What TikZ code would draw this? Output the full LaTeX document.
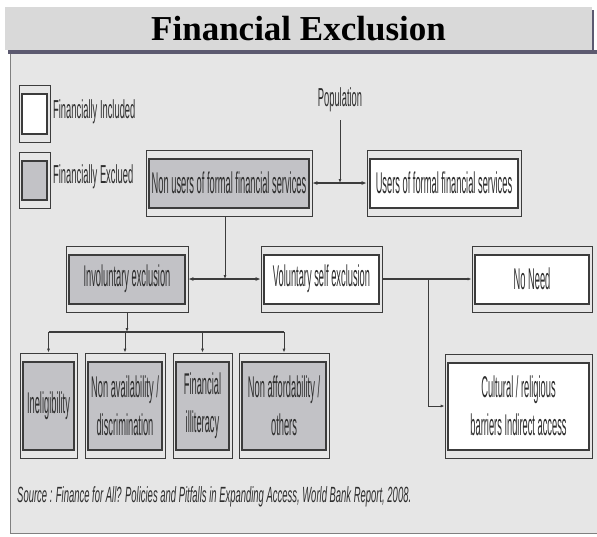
\documentclass[tikz,border=0pt]{standalone}
\usepackage{fontspec}
\setmainfont{Liberation Serif}
\newfontfamily\narrowfont{Liberation Sans}[FakeStretch=0.31]
\newfontfamily\legendfont{Liberation Sans}[FakeStretch=0.36]
\newfontfamily\sourcefont{Liberation Sans}[FakeStretch=0.43]
\usetikzlibrary{arrows.meta}
\definecolor{panelgray}{HTML}{E6E6E6}
\definecolor{titlegray}{HTML}{D9D9D9}
\definecolor{boxgray}{HTML}{C2C2C6}
\definecolor{linegray}{HTML}{3C3C3C}
\definecolor{shadowcol}{HTML}{5C5A70}
\definecolor{textgray}{HTML}{2E2E2E}
\tikzset{
	dblbox/.style={draw=linegray, line width=0.7pt, inner sep=0pt, align=center, text=textgray,
		font=\narrowfont\fontsize{30}{38}\selectfont,
		path picture={\draw[line width=1.2pt, draw=linegray, fill=#1]
			([shift={(3pt,8pt)}]path picture bounding box.south west) rectangle
			([shift={(-3pt,-9pt)}]path picture bounding box.north east);}},
	excl/.style={dblbox=boxgray},
	incl/.style={dblbox=white},
	lbl/.style={text=textgray, inner sep=0pt, font=\legendfont\fontsize{26}{30}\selectfont},
	link/.style={draw=linegray, line width=0.8pt, -{Latex[length=4pt,width=3pt]}},
	twoway/.style={draw=linegray, line width=1.6pt, {Latex[length=5pt,width=4pt]}-{Latex[length=5pt,width=4pt]}},
}
\begin{document}
\begin{tikzpicture}[x=1pt, y=-1pt]
	\useasboundingbox (0,0) rectangle (597,536);
	\fill[panelgray] (10,53) rectangle (597,533);
	\draw[gray, line width=0.8pt] (10,53) -- (10,533) -- (597,533);
	\fill[shadowcol] (8,50) rectangle (597,54);
	\fill[shadowcol] (590,10) rectangle (594,54);
	\node[fill=titlegray, minimum width=587pt, minimum height=43pt, inner sep=0pt,
		font=\bfseries\fontsize{35}{35}\selectfont] (title) at (298.5,28.5) {Financial Exclusion};

	\node[incl, minimum width=31pt, minimum height=57pt] (legIn) at (34.5,113.5) {};
	\node[excl, minimum width=31pt, minimum height=56pt] (legEx) at (34.5,180) {};
	\node[lbl, anchor=west] (legInTxt) at (53,112) {Financially Included};
	\node[lbl, anchor=west] (legExTxt) at (53,177) {Financially Exclued};

	\node[lbl] (popl) at (340,100) {Population};
	\node[excl, minimum width=166pt, minimum height=66pt] (nonusers) at (229,183) {Non users of formal financial services};
	\node[incl, minimum width=154pt, minimum height=66pt] (users) at (444,183) {Users of formal financial services};
		\node[excl, minimum width=122pt, minimum height=66pt] (invol) at (127,279) {Involuntary exclusion};
		\node[incl, minimum width=121pt, minimum height=66pt] (vol) at (321.5,279) {Voluntary self exclusion};
		\node[incl, minimum width=120pt, minimum height=66pt] (noneed) at (532,279) {No Need};
			\node[excl, minimum width=57pt, minimum height=105pt] (inel) at (48.5,405.5) {Ineligibility};
			\node[excl, minimum width=80pt, minimum height=105pt] (nonavail) at (125,405.5) {Non availability /\\discrimination};
			\node[excl, minimum width=59pt, minimum height=105pt] (finill) at (202.5,405.5) {Financial\\illiteracy};
			\node[excl, minimum width=90pt, minimum height=105pt] (nonafford) at (284,405.5) {Non affordability /\\others};
			\node[incl, minimum width=147pt, minimum height=104pt] (cultural) at (518.5,406) {Cultural / religious\\barriers Indirect access};
	\node[lbl, anchor=west, font=\sourcefont\itshape\fontsize{22}{26}\selectfont] (source) at (17,497)
		{Source : Finance for All? Policies and Pitfalls in Expanding Access, World Bank Report, 2008.};

	\coordinate (popj) at (340,183);
	\coordinate (exj) at (225,279);
	\coordinate (invj) at (127,332);
	\coordinate (volj) at (428,279);
	\draw[twoway] (nonusers) -- (users);
	\draw[link, shorten <=8pt] (popl.south) -- (popj);
	\draw[twoway] (invol) -- (vol);
	\draw[link] (nonusers.south -| exj) -- (exj);
	\draw[link] (invol) -- (invj);
	\draw[draw=linegray, line width=1.4pt] (inel.north |- invj) -- (nonafford.north |- invj);
	\foreach \b in {inel,nonavail,finill,nonafford}
		\draw[link] (\b.north |- invj) -- (\b.north);
	\draw[link, line width=1.4pt] (vol) -- (noneed);
	\draw[link] (volj) |- (cultural.west);
\end{tikzpicture}
\end{document}
